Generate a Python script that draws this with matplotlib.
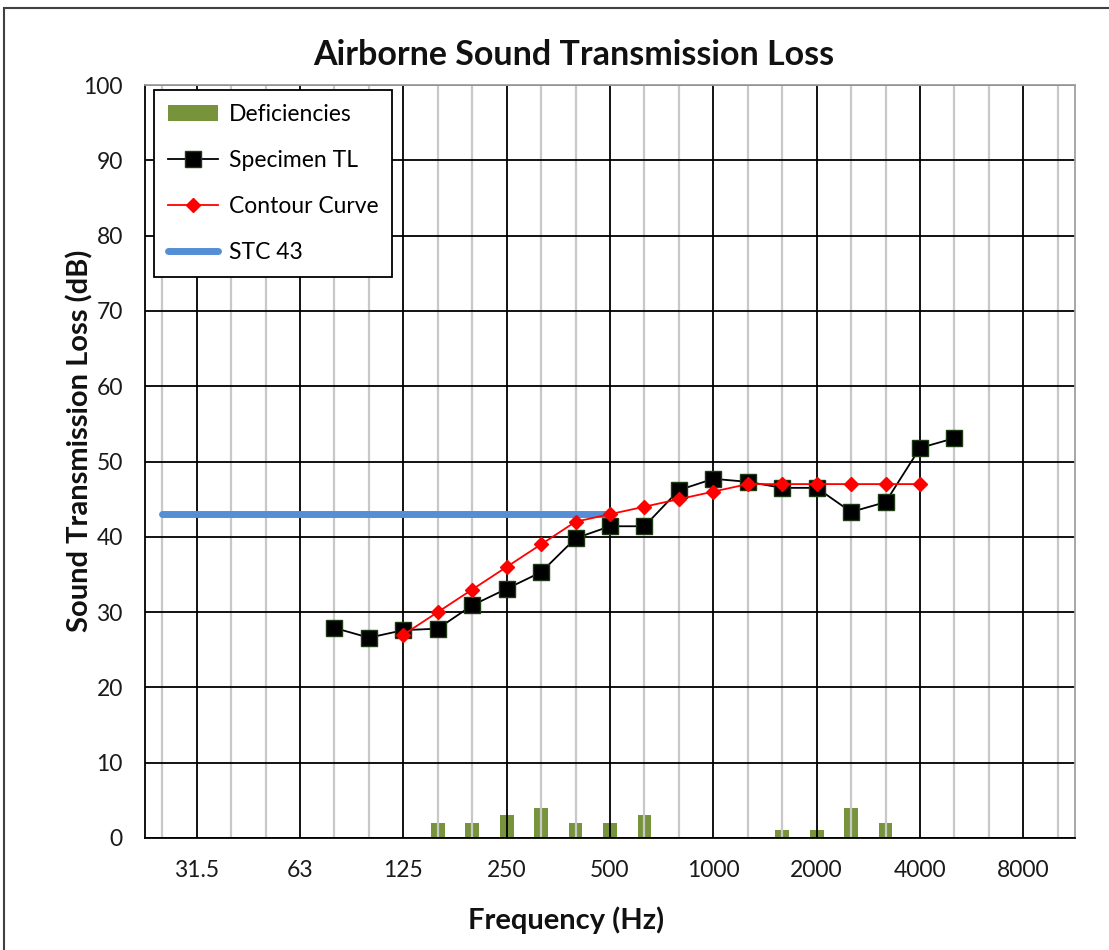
import numpy as np
import matplotlib
matplotlib.use("Agg")
import matplotlib.pyplot as plt
from matplotlib.patches import Rectangle

plt.rcParams['font.family'] = ['Lato', 'DejaVu Sans']

# one-third octave bands on the category axis
freqs = ['25', '31.5', '40', '50', '63', '80', '100', '125', '160', '200', '250', '315',
         '400', '500', '630', '800', '1000', '1250', '1600', '2000', '2500', '3150',
         '4000', '5000', '6300', '8000', '10000']
tick_labels = ['31.5', '63', '125', '250', '500', '1000', '2000', '4000', '8000']

tl_freqs = ['80', '100', '125', '160', '200', '250', '315', '400', '500', '630', '800',
            '1000', '1250', '1600', '2000', '2500', '3150', '4000', '5000']
tl_values = [27.9, 26.6, 27.6, 27.8, 30.9, 33.1, 35.3, 39.8, 41.4, 41.4, 46.2,
             47.7, 47.3, 46.5, 46.5, 43.3, 44.6, 51.8, 53.1]

contour_freqs = ['125', '160', '200', '250', '315', '400', '500', '630', '800',
                 '1000', '1250', '1600', '2000', '2500', '3150', '4000']
contour_values = [27, 30, 33, 36, 39, 42, 43, 44, 45, 46, 47, 47, 47, 47, 47, 47]

def_freqs = ['160', '200', '250', '315', '400', '500', '630', '1600', '2000', '2500', '3150']
def_values = [2, 2, 3, 4, 2, 2, 3, 1, 1, 4, 2]

stc_value = 43
stc_freqs = ['25', '500']

idx = {f: i for i, f in enumerate(freqs)}

fig = plt.figure(figsize=(11.09, 9.5), dpi=100)
ax = fig.add_axes([145/1109, 112/950, 930/1109, 753/950])

ax.bar([idx[f] for f in def_freqs], def_values, width=0.4, color='#77933C',
       zorder=0.4, label='Deficiencies')
ax.plot([idx[f] for f in tl_freqs], tl_values, color='black', lw=1.3, marker='s',
        markersize=11, markerfacecolor='black', markeredgecolor='#1E3A14',
        zorder=3, label='Specimen TL')
ax.plot([idx[f] for f in contour_freqs], contour_values, color='#FF0000', lw=1.3,
        marker='D', markersize=7, zorder=4, label='Contour Curve')
ax.plot([idx[f] for f in stc_freqs], [stc_value, stc_value], color='#558ED5', lw=5,
        solid_capstyle='round', zorder=2, label='STC 43')

ax.set_xlim(-0.5, len(freqs) - 0.5)
ax.set_ylim(0, 100)
ax.set_yticks(range(0, 101, 10))
ax.set_xticks([idx[t] for t in tick_labels])
ax.set_xticklabels(tick_labels)
ax.set_xticks(range(len(freqs)), minor=True)
ax.tick_params(which='both', length=0, labelsize=16.5, labelcolor='#1a1a1a')
ax.tick_params(axis='x', pad=16)
ax.tick_params(axis='y', pad=16)

ax.grid(which='minor', axis='x', color='#C8C8C8', lw=1.6)
ax.grid(which='major', axis='both', color='black', lw=1.3)
ax.set_axisbelow(True)
for side in ['left', 'bottom']:
    ax.spines[side].set_color('black')
    ax.spines[side].set_linewidth(1.3)
for side in ['top', 'right']:
    ax.spines[side].set_color('#A0A0A0')
    ax.spines[side].set_linewidth(1.3)

# titles placed where the original chart has them (not centred on the plot area)
fig.text(574/1109, 1 - 55/950, 'Airborne Sound Transmission Loss', fontsize=24.5,
         fontweight='bold', ha='center', va='center', color='#111111')
fig.text(566/1109, 1 - 920/950, 'Frequency (Hz)', fontsize=21, fontweight='bold',
         ha='center', va='center', color='#111111')
fig.text(80/1109, 1 - 441/950, 'Sound Transmission Loss (dB)', fontsize=21,
         fontweight='bold', rotation=90, ha='center', va='center', color='#111111')

handles, labels = ax.get_legend_handles_labels()
order = [labels.index(n) for n in ['Deficiencies', 'Specimen TL', 'Contour Curve', 'STC 43']]
leg = ax.legend([handles[i] for i in order], [labels[i] for i in order],
                loc='upper left', bbox_to_anchor=(0.0097, 0.9934), borderaxespad=0,
                fontsize=16.5, handlelength=2.2, handletextpad=0.45, labelspacing=1.1,
                fancybox=False, edgecolor='black', framealpha=1, borderpad=0.6)
leg.get_frame().set_linewidth(1.3)

fig.add_artist(Rectangle((4/1109, -0.1), 2, 1.1 - 8/950, transform=fig.transFigure,
                         fill=False, edgecolor='#404040', lw=1.5))

fig.savefig('out.png', dpi=100)
